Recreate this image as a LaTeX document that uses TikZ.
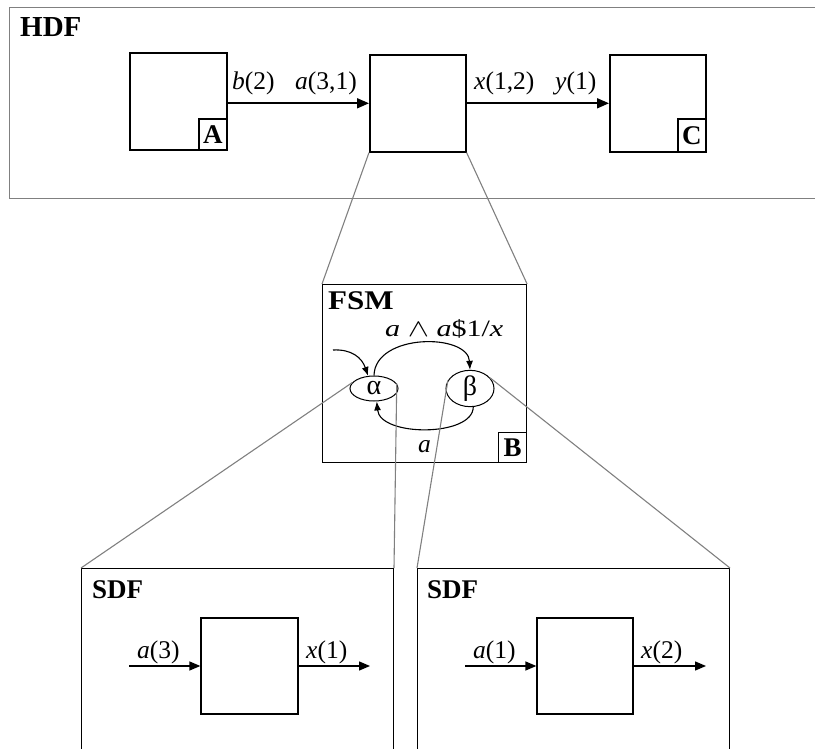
\documentclass[tikz,border=0pt]{standalone}
\usepackage{fontspec}
\usepackage{graphicx}
\setmainfont{Liberation Serif}
\usetikzlibrary{arrows.meta,shapes.geometric}
\begin{document}
\begin{tikzpicture}[x=1pt,y=-1pt,
  lbl/.style={font=\fontsize{25.5}{28}\selectfont, inner sep=0pt, anchor=base west},
  ttl/.style={font=\bfseries\fontsize{29}{32}\selectfont, inner sep=0pt, anchor=base west},
  blk/.style={draw, line width=1.6pt, inner sep=0pt},
  tagbox/.style={draw, line width=1.3pt, inner sep=0pt, font=\bfseries\fontsize{27}{28}\selectfont},
  frame/.style={draw, line width=1pt, inner sep=0pt},
  gz/.style={draw=gray, line width=1.1pt},
  harrow/.style={line width=1.7pt, -{Triangle[length=12pt,width=10pt]}},
  sarrow/.style={line width=1.4pt, -{Triangle[length=11pt,width=9pt]}},
  farrow/.style={line width=1.1pt, -{Latex[length=9pt,width=7pt]}},
  state/.style={draw, ellipse, line width=1pt, minimum width=48pt, minimum height=25pt, inner sep=0pt, font=\fontsize{28}{28}\selectfont}
]
\useasboundingbox (0,0) rectangle (815,749);
\clip (0,0) rectangle (815,749);

% HDF level
\node[draw=gray, line width=1.3pt, inner sep=0pt, minimum width=840pt, minimum height=191pt, anchor=north west] (hdf) at (9,7) {};
\node[ttl] (hdfl) at (20,37) {HDF};
\node[blk, minimum width=97pt, minimum height=97pt, anchor=north west] (A) at (129,52) {};
\node[tagbox, minimum width=28pt, minimum height=31pt, anchor=south east] (Atag) at (A.south east) {A};
\node[blk, minimum width=96pt, minimum height=97pt, anchor=north west] (mid) at (369,54) {};
\node[blk, minimum width=96pt, minimum height=97pt, anchor=north west] (C) at (609,54) {};
\node[tagbox, minimum width=28pt, minimum height=33pt, anchor=south east] (Ctag) at (C.south east) {C};
\draw[harrow] (A.east |- mid.west) -- (mid.west);
\draw[harrow] (mid.east) -- (C.west);
\node[lbl] (lb2) at (232,90) {\textit{b}(2)};
\node[lbl] (la31) at (295,90) {\textit{a}(3,1)};
\node[lbl] (lx12) at (474,90) {\textit{x}(1,2)};
\node[lbl] (ly1) at (555,90) {\textit{y}(1)};

% FSM level
\node[frame, line width=1.1pt, minimum width=204pt, minimum height=178pt, anchor=north west] (fsm) at (322,284) {};
\node[tagbox, line width=1.1pt, minimum width=28pt, minimum height=30pt, anchor=south east] (Btag) at (fsm.south east) {B};
\node[ttl, font=\bfseries\fontsize{27}{30}\selectfont] (fsml) at (328,309) {\scalebox{1.15}[1]{FSM}};
\node[state] (alpha) at (374,388.5) {α};
\node[state] (beta) at (470,388.5) {β};
\node[inner sep=0pt, anchor=base west, font=\fontsize{23.5}{26}\selectfont] (cond) at (385,336) {\scalebox{1.28}[1]{\textit{a} $\wedge$ \textit{a}\$1/\textit{x}}};
\node[lbl] (la) at (418,452) {\textit{a}};
\coordinate (init) at (333,350);
\draw[farrow] (init) .. controls (352,349) and (362,358) .. (alpha.115);
\draw[farrow] (alpha.north) .. controls (375,333) and (468,333) .. (beta.north);
\draw[farrow] (beta.-80) .. controls (473,437) and (380,437) .. (alpha.-78);

% SDF level
\node[frame, minimum width=312pt, minimum height=200pt, anchor=north west] (sdfL) at (81,568) {};
\node[frame, minimum width=312pt, minimum height=200pt, anchor=north west] (sdfR) at (417,568) {};
\node[ttl, font=\bfseries\fontsize{27}{30}\selectfont] (sdfLl) at (92,598) {SDF};
\node[ttl, font=\bfseries\fontsize{27}{30}\selectfont] (sdfRl) at (427,598) {SDF};
\node[draw, line width=1.3pt, inner sep=0pt, minimum width=97pt, minimum height=96pt] (bl) at (249.5,666) {};
\node[draw, line width=1.3pt, inner sep=0pt, minimum width=96pt, minimum height=96pt] (br) at (585,666) {};
\coordinate (inL) at (129,666);
\coordinate (outL) at (370,666);
\coordinate (inR) at (465,666);
\coordinate (outR) at (706,666);
\draw[sarrow] (inL) -- (bl.west);
\draw[sarrow] (bl.east) -- (outL);
\draw[sarrow] (inR) -- (br.west);
\draw[sarrow] (br.east) -- (outR);
\node[lbl] (la3) at (137,658) {\textit{a}(3)};
\node[lbl] (lx1) at (306,658) {\textit{x}(1)};
\node[lbl] (la1) at (473,658) {\textit{a}(1)};
\node[lbl] (lx2) at (641,658) {\textit{x}(2)};

% zoom lines
\draw[gz] (mid.south west) -- (fsm.north west);
\draw[gz] (mid.south east) -- (fsm.north east);
\draw[gz] (alpha.165) -- (sdfL.north west);
\draw[gz] (alpha.12) -- (sdfL.north east);
\draw[gz] (beta.160) -- (sdfR.north west);
\draw[gz] (beta.28) -- (sdfR.north east);
\end{tikzpicture}
\end{document}
